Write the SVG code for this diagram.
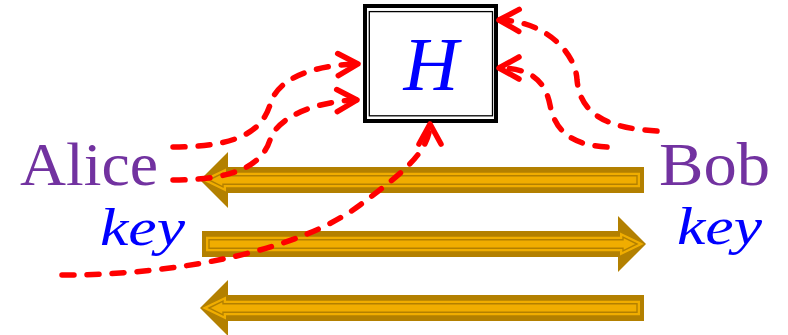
<svg xmlns="http://www.w3.org/2000/svg" xmlns:xlink="http://www.w3.org/1999/xlink" width="788" height="335" viewBox="0 0 788 335">
<style>
.ao{fill:#B38000;stroke:none}
.ai1{fill:#F0AD00;stroke:#F0AD00;stroke-width:6;stroke-linejoin:miter}
.ai2{fill:none;stroke:#B38000;stroke-width:1.4;stroke-linejoin:miter}
.conn{fill:none;stroke:#FF0000;stroke-width:5.5;stroke-linecap:round;stroke-dasharray:12 13;marker-end:url(#chev)}
.name{font-family:"Liberation Serif","DejaVu Serif",serif;fill:#7232A0;font-size:62px}
.key{font-family:"Liberation Serif","DejaVu Serif",serif;font-style:italic;fill:#0000FF;font-size:52px}
</style>
<defs>
<marker id="chev" markerUnits="userSpaceOnUse" markerWidth="40" markerHeight="40" refX="0" refY="0" orient="auto" overflow="visible">
<path d="M-20,-11 L0,0 L-20,11" fill="none" stroke="#FF0000" stroke-width="5.5" stroke-linecap="round" stroke-linejoin="round" stroke-dasharray="none"/>
</marker>
<g id="arrowL">
<path class="ao" d="M0,0 L28,-28 L28,-13 L444,-13 L444,13 L28,13 L28,28 Z"/>
<path class="ai1" d="M9,0 L23,-6.8 L23,-4.2 L437,-4.2 L437,4.2 L23,4.2 L23,6.8 Z"/>
<path class="ai2" d="M9,0 L23,-6.8 L23,-4.2 L437,-4.2 L437,4.2 L23,4.2 L23,6.8 Z"/>
</g>
</defs>
<rect width="788" height="335" fill="#FFFFFF"/>
<g id="arrow1"><use xlink:href="#arrowL" transform="translate(200,180)"/></g>
<g id="arrow2"><use xlink:href="#arrowL" transform="translate(646,244) scale(-1,1)"/></g>
<g id="arrow3"><use xlink:href="#arrowL" transform="translate(200,308)"/></g>
<g id="H">
<rect x="365" y="6" width="131" height="115" fill="#FFFFFF" stroke="#000000" stroke-width="4"/>
<rect x="369.3" y="11.6" width="123.2" height="104.2" fill="none" stroke="#000000" stroke-width="1.3"/>
<text x="431" y="90" text-anchor="middle" font-family="Liberation Serif, DejaVu Serif, serif" font-style="italic" font-size="76" fill="#0000FF">H</text>
</g>
<g id="alice">
<text class="name" x="20" y="185" textLength="138" lengthAdjust="spacingAndGlyphs">Alice</text>
<text class="key" x="100" y="245" textLength="85" lengthAdjust="spacingAndGlyphs">key</text>
</g>
<g id="bob">
<text class="name" x="659" y="185" textLength="111" lengthAdjust="spacingAndGlyphs">Bob</text>
<text class="key" x="677" y="244" textLength="85" lengthAdjust="spacingAndGlyphs">key</text>
</g>
<g id="connectors">
<path class="conn" d="M173,147 C240,147 262,130 270,105 C278,75 320,65 358,64"/>
<path class="conn" d="M173,180 C235,180 262,165 270,140 C278,115 320,101 357,100"/>
<path class="conn" d="M62,275 C180,275 300,250 360,205 C400,175 430,152 430,124"/>
<path class="conn" d="M657,131 C600,128 580,110 577,80 C576,55 548,21 499,20"/>
<path class="conn" d="M607,147 C570,145 555,130 550,105 C545,80 530,68 499,68"/>
</g>
</svg>
